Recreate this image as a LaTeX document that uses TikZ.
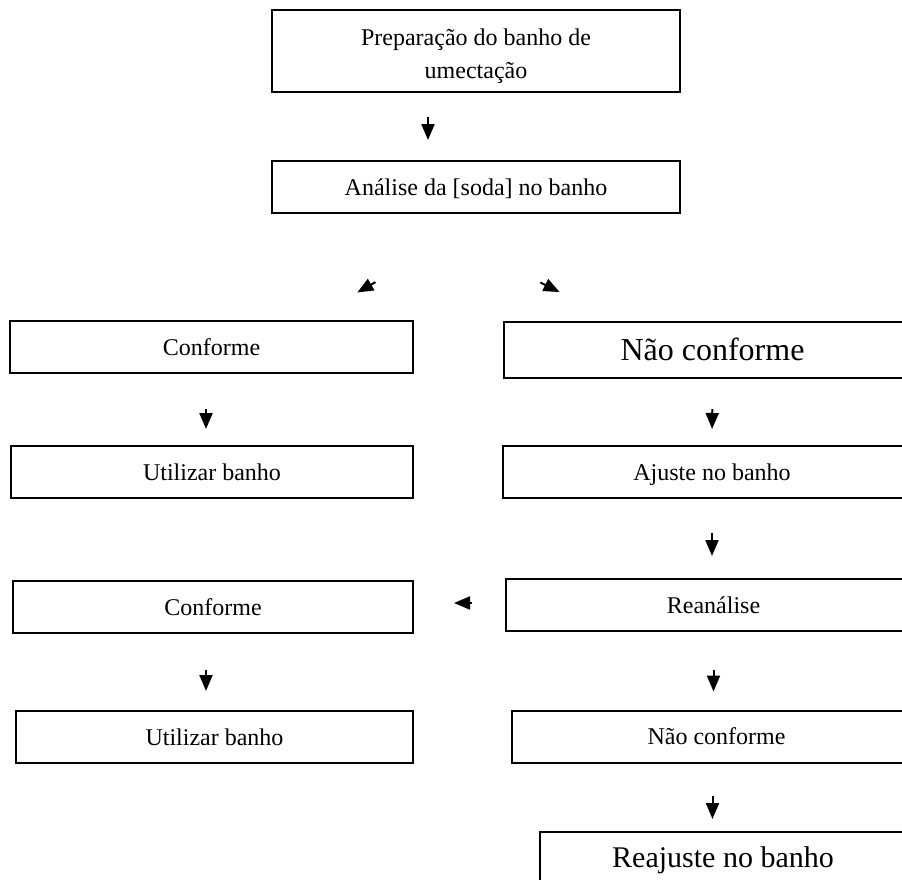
\documentclass[tikz,border=0pt]{standalone}
\usepackage{fontspec}
\setmainfont{Liberation Serif}
\usetikzlibrary{arrows.meta}

\begin{document}
\begin{tikzpicture}[x=0.5pt, y=-0.5pt,
    stage/.style={draw, line width=1pt, inner sep=2pt, align=center, font=\fontsize{12}{15}\selectfont,
        minimum height=26pt, text height=10.5pt, text depth=2.5pt},
    big/.style={font=\fontsize{#1}{#1}\selectfont, text height=0.86*#1 pt, text depth=0.2*#1 pt},
    arr/.style={-{Triangle[length=8pt,width=6.5pt]}, line width=1pt}
]
\useasboundingbox (0,0) rectangle (902,880);
\clip (0,0) rectangle (902,880);

% upper part
\node[stage, minimum width=204pt, minimum height=41pt, text height=, text depth=, font=\fontsize{12}{16.5}\selectfont] (P) at (476,51) {\rule{0pt}{13.5pt}Preparação do banho de\\umectação};
\node[stage, minimum width=204pt] (A) at (476,187) {Análise da [soda] no banho};

% left column
\node[stage, minimum width=201.5pt] (C1) at (211.5,347) {Conforme};
\node[stage, minimum width=201pt] (U1) at (212,472) {Utilizar banho};
\node[stage, minimum width=200pt] (C2) at (213,607) {Conforme};
\node[stage, minimum width=198.5pt] (U2) at (214.5,737) {Utilizar banho};

% right column
\node[stage, big=16, minimum width=208.5pt, minimum height=28pt] (N1) at (712.5,350) {Não conforme};
\node[stage, minimum width=209pt] (J) at (712,472) {Ajuste no banho};
\node[stage, minimum width=207.5pt] (R) at (713.5,605) {Reanálise};
\node[stage, minimum width=204.5pt] (N2) at (716.5,736.5) {Não conforme};
\node[stage, big=15, minimum width=183pt] (RJ) at (723,858) {Reajuste no banho};

\draw[arr, shorten <=12pt, shorten >=10pt] ([xshift=-24pt]P.south) -- ([xshift=-24pt]A.north);
\draw[arr, shorten <=68.8pt, shorten >=27.8pt] ([xshift=9.5pt]A.south) -- ([xshift=48.75pt]C1.north);
\draw[arr, shorten <=77.2pt, shorten >=32.6pt] ([xshift=-37pt]A.south) -- ([xshift=-47.25pt]N1.north);

\draw[arr, shorten <=17.5pt, shorten >=8pt] ([xshift=-2.75pt]C1.south) -- ([xshift=-3pt]U1.north);
\draw[arr, shorten <=15pt, shorten >=8pt] (N1.south) -- (J.north);
\draw[arr, shorten <=17pt, shorten >=11pt] (J.south) -- (J.south |- R.north);
\draw[arr, shorten <=16.5pt, shorten >=20pt] ([yshift=1pt]R.west) -- ([yshift=1pt]R.west -| C2.east);
\draw[arr, shorten <=18pt, shorten >=9.5pt] ([xshift=-3.5pt]C2.south) -- ([xshift=-3.5pt]C2.south |- U2.north);
\draw[arr, shorten <=19pt, shorten >=9pt] (R.south) -- (R.south |- N2.north);
\draw[arr, shorten <=16pt, shorten >=6pt] ([xshift=-2pt]N2.south) -- ([xshift=-2pt]N2.south |- RJ.north);
\end{tikzpicture}
\end{document}
